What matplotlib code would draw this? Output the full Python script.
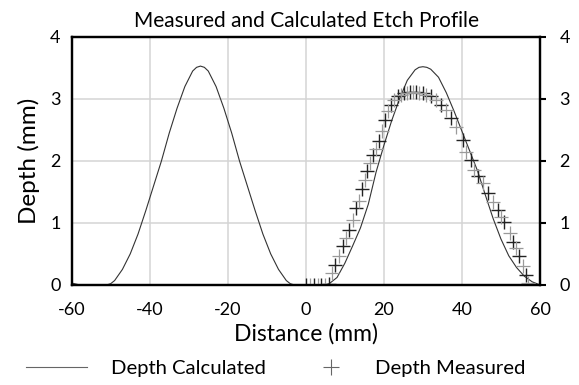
import matplotlib
matplotlib.use('Agg')
import matplotlib.pyplot as plt
from matplotlib.lines import Line2D

plt.rcParams['font.family'] = ['Lato', 'DejaVu Sans']
plt.rcParams['axes.unicode_minus'] = False

# calculated etch profile (two passes)
calc_x = [-60, -58, -51, -50, -49, -47, -45, -43, -41, -39, -37, -35, -33, -31, -29, -28, -27, -26, -25,
          -23, -21, -19, -17, -15, -13, -11, -9, -7, -5, -4, -3,
          5, 6, 8, 10, 12, 14, 16, 18, 20, 22, 24, 26, 28, 29, 30, 31, 32, 34, 36, 38,
          40, 42, 44, 46, 48, 50, 52, 54, 56, 58, 60]
calc_y = [0.03, 0, 0, 0.02, 0.07, 0.25, 0.5, 0.82, 1.2, 1.6, 2.0, 2.45, 2.85, 3.2, 3.45, 3.51, 3.53, 3.51, 3.45,
          3.2, 2.85, 2.45, 2.0, 1.6, 1.2, 0.82, 0.5, 0.25, 0.07, 0.02, 0,
          0, 0.02, 0.12, 0.35, 0.63, 0.92, 1.3, 1.82, 2.25, 2.65, 3.0, 3.3, 3.47, 3.51, 3.52, 3.51, 3.48, 3.35, 3.1, 2.8,
          2.48, 2.16, 1.84, 1.45, 1.07, 0.74, 0.47, 0.28, 0.14, 0.05, 0]

# measured depth
meas_x = [0, 1, 2, 3, 4, 5, 6, 6.8, 7.5, 8.5, 9.4, 10.2, 11.1, 12.0, 12.8, 13.7, 14.4, 15.1, 15.8, 16.5,
          17.2, 18.0, 18.7, 19.5, 20.3, 21.1, 21.9, 22.7, 23.5, 24.3, 25.1, 25.9, 26.7, 27.5, 28.3, 29.1,
          29.9, 30.8, 32.1, 33.3, 34.6, 35.9, 37.2, 38.5, 40.2, 41.0, 42.3, 43.2, 44.0, 45.3, 46.6, 47.9,
          49.2, 50.0, 50.9, 52.2, 53.0, 53.8, 54.7, 55.6, 56.4, 57.0]
meas_y = [0, 0, 0, 0, 0, 0, 0.02, 0.19, 0.32, 0.46, 0.62, 0.75, 0.89, 1.05, 1.24, 1.35, 1.55, 1.70, 1.83, 1.96,
          2.10, 2.20, 2.32, 2.48, 2.66, 2.80, 2.90, 2.98, 3.04, 3.07, 3.09, 3.10, 3.11, 3.12, 3.11, 3.10,
          3.09, 3.07, 3.04, 2.98, 2.90, 2.82, 2.69, 2.55, 2.34, 2.15, 2.02, 1.85, 1.75, 1.64, 1.48, 1.34,
          1.21, 1.10, 1.02, 0.83, 0.70, 0.59, 0.46, 0.30, 0.16, 0.03]

xticks = [-60, -40, -20, 0, 20, 40, 60]
yticks = [0, 1, 2, 3, 4]

fig = plt.figure(figsize=(5.79, 3.85), dpi=100)
ax = fig.add_axes([0.1238, 0.26, 0.8088, 0.644])

ax.plot(calc_x, calc_y, color='#333333', lw=0.8, zorder=3)
# alternate dark / light crosses like the source rendering
ax.plot(meas_x[::2], meas_y[::2], ls='none', marker='+', ms=10, mew=1.0, color='#222222', zorder=4)
ax.plot(meas_x[1::2], meas_y[1::2], ls='none', marker='+', ms=10, mew=0.9, color='#9a9a9a', zorder=4)

ax.set_xlim(-60, 60)
ax.set_ylim(0, 4)
ax.set_xticks(xticks)
ax.set_yticks(yticks)
ax.grid(color='#d4d4d4', lw=1.1)
ax.set_axisbelow(True)
ax.tick_params(length=0, labelsize=13)
ax.tick_params(axis='x', pad=12)
ax.tick_params(axis='y', pad=8)
for s in ax.spines.values():
    s.set_linewidth(1.6)
    s.set_color('black')

ax2 = ax.twinx()
ax2.set_ylim(0, 4)
ax2.set_yticks(yticks)
ax2.tick_params(direction='out', length=4, width=1.5, labelsize=13, pad=10)
for s in ax2.spines.values():
    s.set_linewidth(1.6)

fig.text(306 / 579, 1 - 21 / 385, 'Measured and Calculated Etch Profile', fontsize=15, ha='center', va='center')
ax.set_xlabel('Distance (mm)', fontsize=16.5, labelpad=4)
ax.set_ylabel('Depth (mm)', fontsize=17.5, labelpad=7)

leg_y = 1 - 368 / 385
h_calc = Line2D([], [], color='#666666', lw=0.8)
h_meas = Line2D([], [], ls='none', marker='+', ms=11, mew=0.8, color='#666666')
fig.legend([h_calc], ['Depth Calculated'], loc='center left', bbox_to_anchor=(26 / 579, leg_y),
           frameon=False, fontsize=14.6, handlelength=3.0, handletextpad=1.18,
           borderpad=0, borderaxespad=0)
fig.legend([h_meas], ['Depth Measured'], loc='center left', bbox_to_anchor=(310.7 / 579, leg_y),
           frameon=False, fontsize=14.6, handlelength=2.0, handletextpad=1.17,
           borderpad=0, borderaxespad=0)

fig.savefig('out.png', dpi=100)
